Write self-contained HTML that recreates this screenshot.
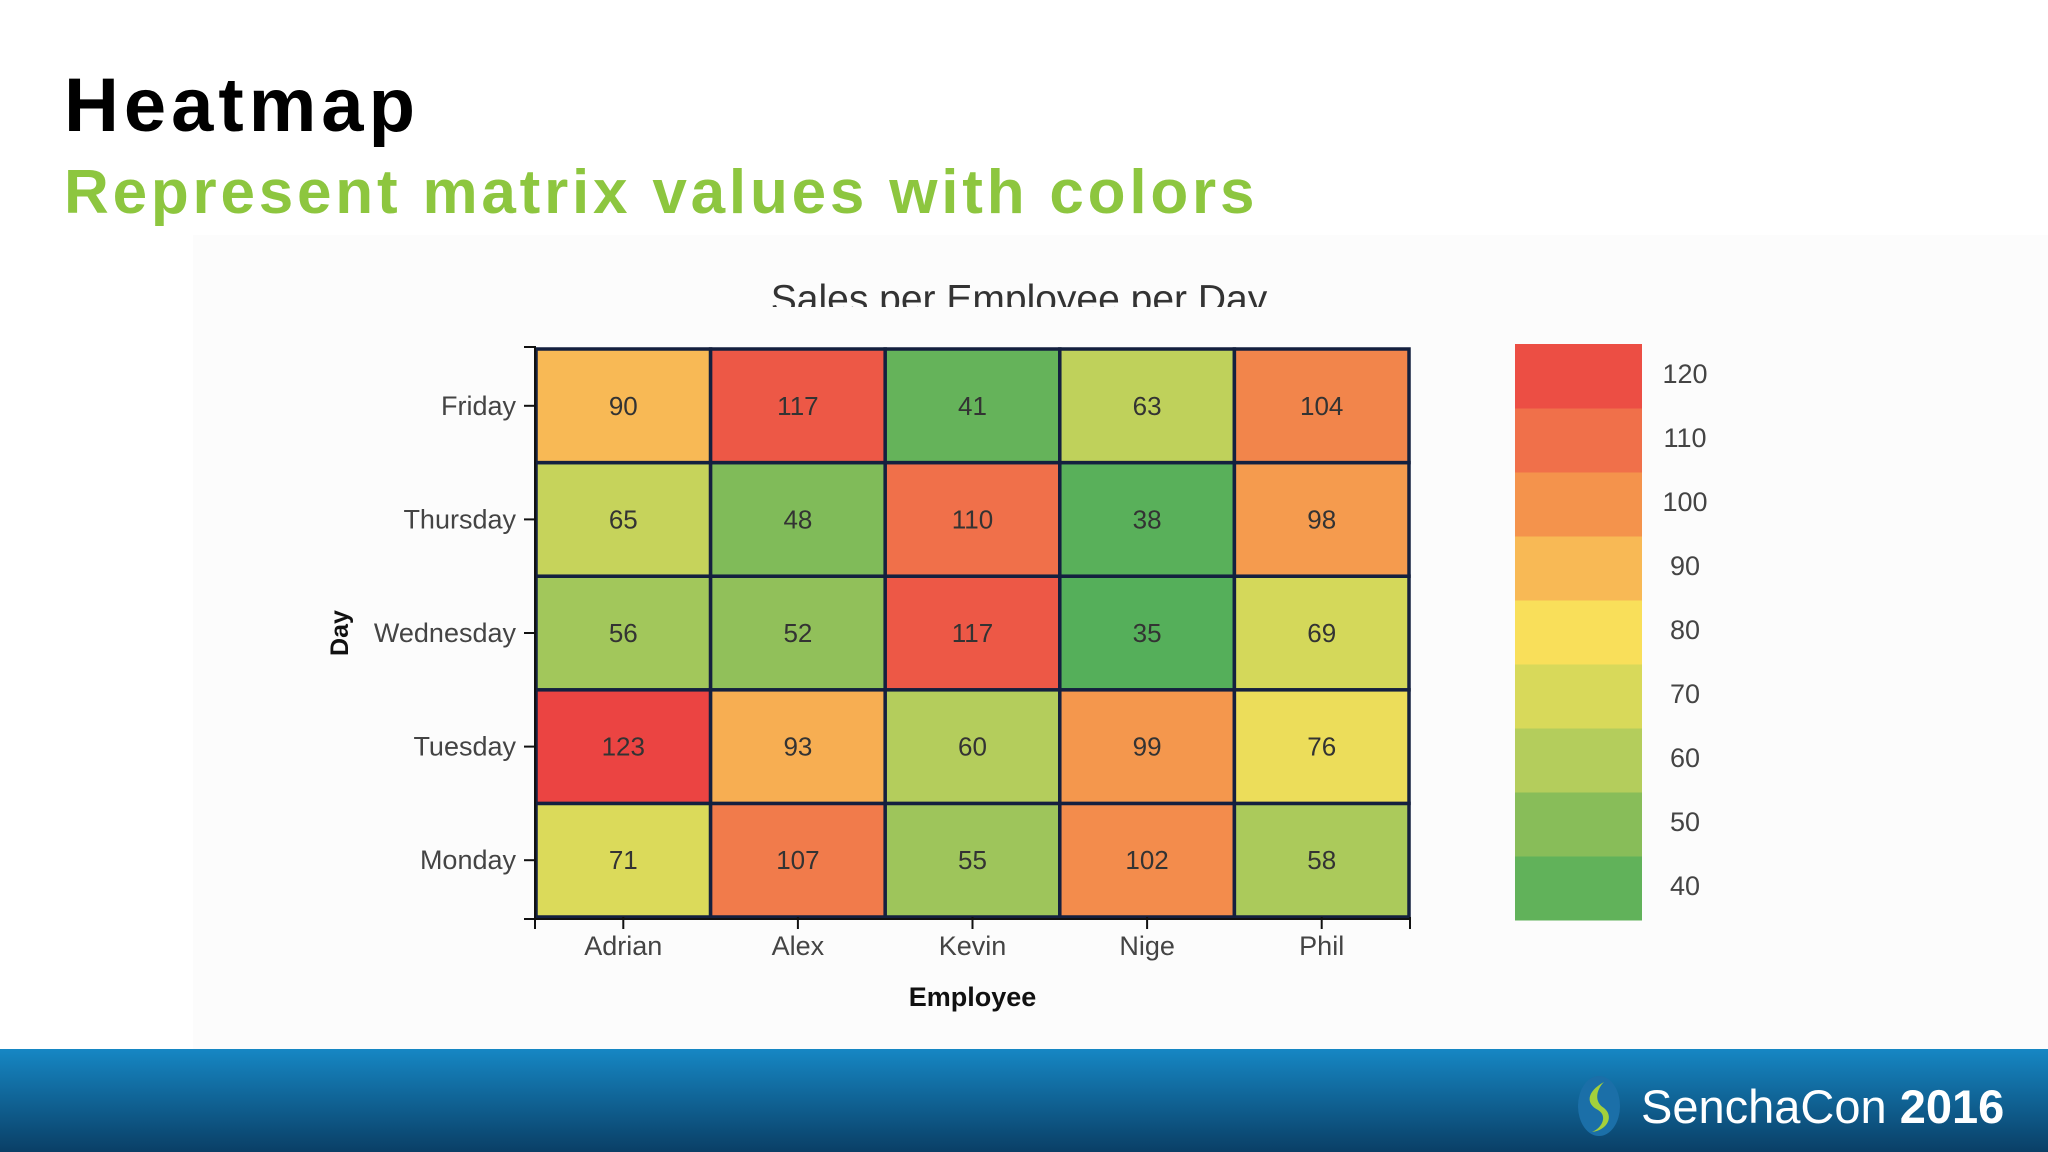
<!DOCTYPE html>
<html><head><meta charset="utf-8">
<style>
html,body{margin:0;padding:0;width:2048px;height:1152px;overflow:hidden;background:#fff;font-family:"Liberation Sans",sans-serif;}
#title{position:absolute;left:64px;top:62px;font-size:76px;font-weight:bold;letter-spacing:5px;color:#000;}
#subtitle{position:absolute;left:64px;top:157px;font-size:62px;font-weight:bold;letter-spacing:3.8px;color:#8dc63f;}
#panel{position:absolute;left:193px;top:235px;width:1855px;height:814px;background:#fcfcfc;}
#footer{position:absolute;left:0;top:1049px;width:2048px;height:103px;background:linear-gradient(#1687c4,#0a3f66);}
#brand{position:absolute;left:1641px;top:1079px;font-size:47px;color:#fff;font-family:"Liberation Sans",sans-serif;white-space:nowrap;}
</style></head><body>
<div id="title">Heatmap</div>
<div id="subtitle">Represent matrix values with colors</div>
<div id="panel"></div>
<svg id="chart" width="2048" height="1152" style="position:absolute;left:0;top:0">
<defs><clipPath id="tc"><rect x="0" y="250" width="2048" height="57"/></clipPath></defs>
<text x="1019" y="312" text-anchor="middle" font-size="39" fill="#333" clip-path="url(#tc)">Sales per Employee per Day</text>
<g id="cells"></g><g id="axes"></g><g id="legend"></g>
</svg>
<div id="footer"></div>
<svg style="position:absolute;left:1574px;top:1074px" width="50" height="64">
<ellipse cx="25" cy="32" rx="21" ry="30" fill="#1b6fa8"/>
<path d="M30 8 C12 18 12 30 24 36 C34 42 28 54 18 58 C34 56 40 42 30 34 C20 28 22 16 30 8Z" fill="#a4d03b"/>
</svg>
<div id="brand">SenchaCon <b style="font-weight:bold">2016</b></div>
<script>
const employees=["Adrian","Alex","Kevin","Nige","Phil"];
const days=["Monday","Tuesday","Wednesday","Thursday","Friday"];
const values=[
 [71,123,56,65,90],
 [107,93,52,48,117],
 [55,60,117,110,41],
 [102,99,35,38,63],
 [58,76,69,98,104]
];
const legendTicks=[40,50,60,70,80,90,100,110,120];
const legendColors=["#61b25a","#88bd59","#b4cd5c","#d8d95a","#f9df5a","#f8b955","#f4934c","#f0704a","#ec4e44"];
const NS="http://www.w3.org/2000/svg";
const X0=536,X1=1409,Y0=349,Y1=917;
const cw=(X1-X0)/employees.length, ch=(Y1-Y0)/days.length;
const xPos=i=>X0+i*cw, yPos=j=>Y1-(j+1)*ch;
function hex(c){return [1,3,5].map(i=>parseInt(c.substr(i,2),16));}
function color(v){
 let t=(v-40)/10; t=Math.max(-0.3,Math.min(8.3,t));
 let i=Math.floor(t); if(i<0)i=0; if(i>7)i=7; const f=t-i;
 const a=hex(legendColors[i]),b=hex(legendColors[i+1]);
 return "rgb("+a.map((x,k)=>Math.round(x+(b[k]-x)*f)).join(",")+")";
}
function mk(tag,attrs,parent){const e=document.createElementNS(NS,tag);for(const k in attrs)e.setAttribute(k,attrs[k]);parent.appendChild(e);return e;}
const cells=document.getElementById('cells'),axes=document.getElementById('axes'),leg=document.getElementById('legend');
employees.forEach((emp,i)=>{days.forEach((d,j)=>{
 const v=values[i][j];
 const r=mk('rect',{x:xPos(i),y:yPos(j),width:cw,height:ch,fill:color(v),stroke:"#14203f","stroke-width":3.5},cells);
 
 
 const t=mk('text',{x:xPos(i)+cw/2,y:yPos(j)+ch/2+9,"text-anchor":"middle","font-size":26,fill:"#333"},cells);
 t.textContent=v;
 
 
});});
mk('line',{x1:X0-1,y1:Y0-2,x2:X0-1,y2:Y1+2,stroke:"#111","stroke-width":2},axes);
mk('line',{x1:X0-12,y1:Y1+2,x2:X1+1,y2:Y1+2,stroke:"#111","stroke-width":2},axes);
mk('line',{x1:X0-12,y1:Y0-2,x2:X0,y2:Y0-2,stroke:"#111","stroke-width":2},axes);
mk('line',{x1:X0-1,y1:Y1,x2:X0-1,y2:Y1+12,stroke:"#111","stroke-width":2},axes);
mk('line',{x1:X1+1,y1:Y1,x2:X1+1,y2:Y1+12,stroke:"#111","stroke-width":2},axes);
days.forEach((d,j)=>{
 const y=yPos(j)+ch/2;
 mk('line',{x1:X0-12,y1:y,x2:X0,y2:y,stroke:"#111","stroke-width":2},axes);
 const t=mk('text',{x:X0-20,y:y+9,"text-anchor":"end","font-size":27,fill:"#444"},axes);
 t.textContent=d;
 
 
});
employees.forEach((e,i)=>{
 const x=xPos(i)+cw/2;
 mk('line',{x1:x,y1:Y1,x2:x,y2:Y1+12,stroke:"#111","stroke-width":2},axes);
 const t=mk('text',{x:x,y:Y1+38,"text-anchor":"middle","font-size":27,fill:"#444"},axes);
 t.textContent=e;
 
 
});
let xt=mk('text',{x:(X0+X1)/2,y:1006,"text-anchor":"middle","font-size":27,"font-weight":"bold",fill:"#111"},axes);
xt.textContent="Employee";


let yt=mk('text',{x:0,y:0,"text-anchor":"middle","font-size":25,"font-weight":"bold",fill:"#111",transform:"translate(348,633) rotate(-90)"},axes);
yt.textContent="Day";


const LX=1515,LW=127,LTop=344,LH=64;
legendTicks.forEach((v,k)=>{
 const y=LTop+(legendTicks.length-1-k)*LH;
 const r=mk('rect',{x:LX,y:y,width:LW,height:LH+0.5,fill:legendColors[k]},leg);
 
 
 const t=mk('text',{x:1685,y:y+LH/2+7,"text-anchor":"middle","font-size":27,fill:"#444"},leg);
 t.textContent=v;
 
 
});
</script>
</body></html>
